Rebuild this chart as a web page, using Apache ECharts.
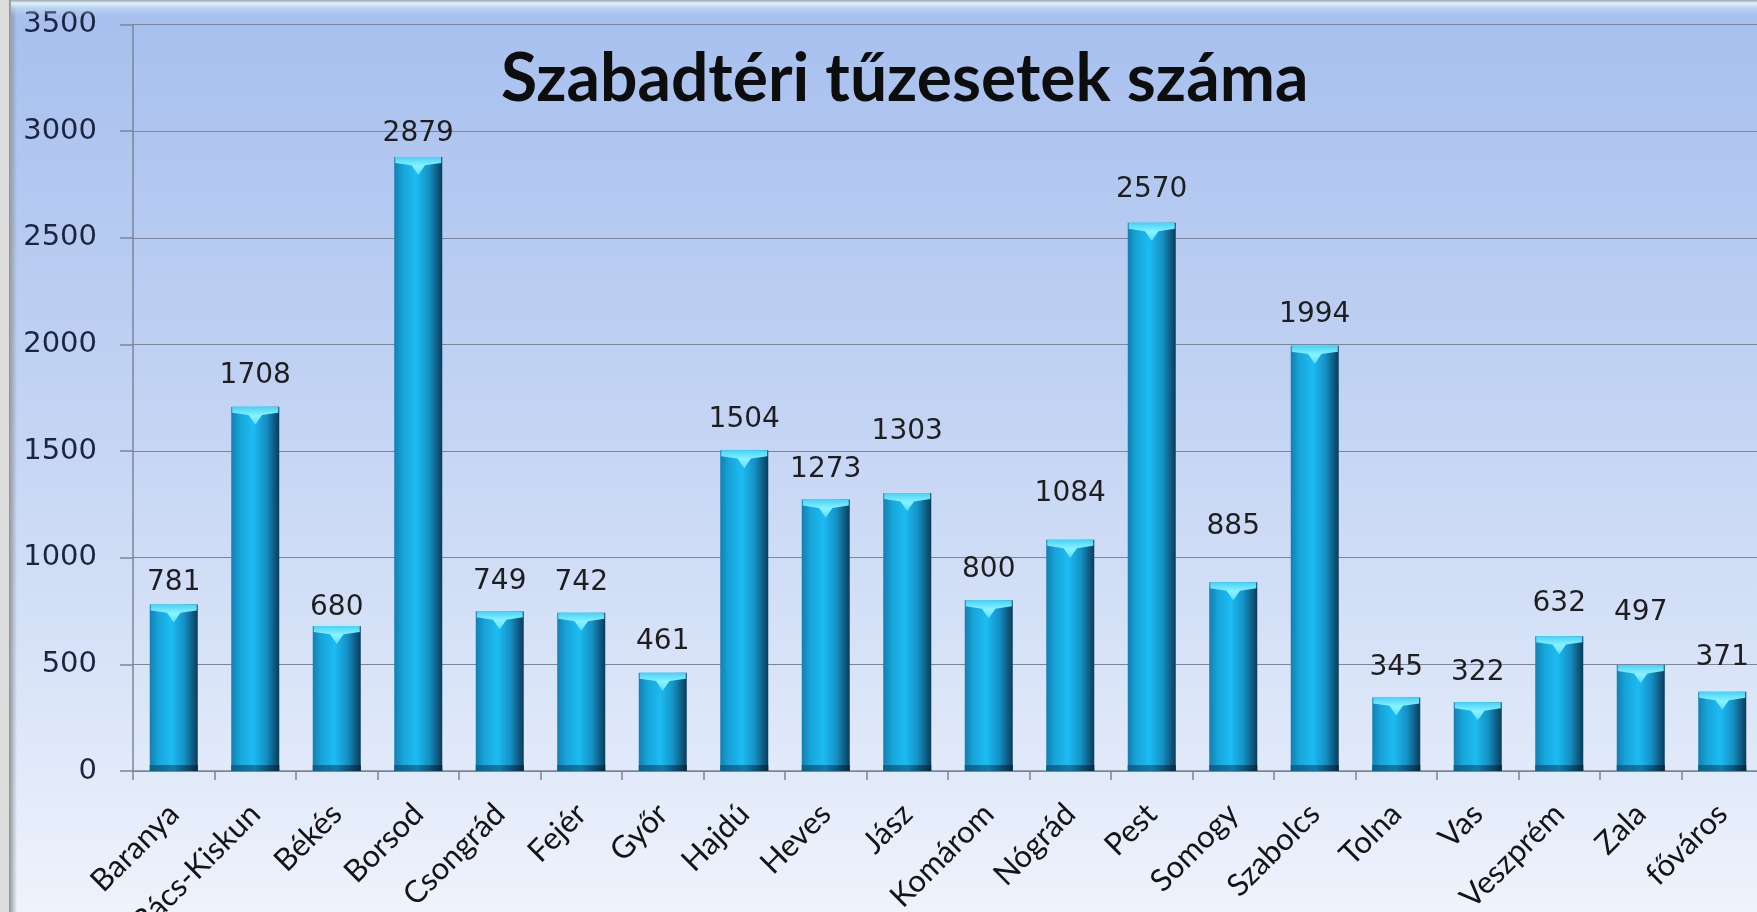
<!DOCTYPE html>
<html>
<head>
<meta charset="utf-8">
<script src="https://cdn.jsdelivr.net/npm/echarts@6/dist/echarts.min.js"></script>
<style>
  html, body { margin: 0; padding: 0; width: 1757px; height: 912px; overflow: hidden; background: #dcdcdc; }
  #chart { position: absolute; left: 11px; top: 0; width: 1746px; height: 912px; }
  #shade { position: absolute; left: 9px; top: 0; width: 8px; height: 912px; pointer-events: none;
    background: linear-gradient(to right, #8e939c, rgba(160,180,220,0)); }
  #glow { position: absolute; left: 11px; top: 0; width: 1746px; height: 16px; pointer-events: none;
    background: linear-gradient(to bottom, #9aa3ad 0, #e2f3fb 3px, rgba(200,225,245,0.6) 8px, rgba(170,195,240,0) 16px); }
</style>
</head>
<body>
<div id="chart"></div>
<div id="shade"></div>
<div id="glow"></div>
<script>
// megyék
var categories = ['Baranya', 'Bács-Kiskun', 'Békés', 'Borsod', 'Csongrád', 'Fejér', 'Győr', 'Hajdú',
  'Heves', 'Jász', 'Komárom', 'Nógrád', 'Pest', 'Somogy', 'Szabolcs', 'Tolna', 'Vas', 'Veszprém',
  'Zala', 'főváros'];
var fires = [781, 1708, 680, 2879, 749, 742, 461, 1504, 1273, 1303, 800, 1084, 2570, 885, 1994,
  345, 322, 632, 497, 371];
var yTicks = [0, 500, 1000, 1500, 2000, 2500, 3000, 3500];

// a címkék az eredetin kézzel vannak elhúzva, ezért oszloponként más a távolság (px)
var labelLift = [8, 17, 4, 9, 16, 16, 17, 16, 16, 47, 17, 32, 19, 42, 17, 16, 16, 18, 38, 20];

var chart = echarts.init(document.getElementById('chart'));

var barData = fires.map(function (v, i) {
  return { value: v, label: { distance: labelLift[i] } };
});

var option = {
  backgroundColor: new echarts.graphic.LinearGradient(0, 0, 0, 1, [
    { offset: 0, color: '#a6bfee' },
    { offset: 0.5, color: '#c6d6f4' },
    { offset: 1, color: '#eef3fc' }
  ]),
  animation: false,
  title: {
    text: 'Szabadtéri tűzesetek száma',
    left: 490,
    top: 47,
    padding: 0,
    textStyle: {
      fontFamily: 'Lato',
      fontWeight: 'bold',
      fontSize: 66,
      color: '#0d0d0d'
    }
  },
  grid: {
    left: 122,
    right: -6,
    top: 24.5,
    bottom: 141,
    outerBoundsMode: 'none'
  },
  xAxis: {
    type: 'category',
    data: categories,
    axisLine: { lineStyle: { color: '#7b8696', width: 1.5 } },
    axisTick: { show: true, length: 9, lineStyle: { color: '#7b8696', width: 1.5 } },
    axisLabel: {
      rotate: 45,
      interval: 0,
      margin: 38,
      fontFamily: 'Lato',
      fontSize: 31,
      color: '#141414'
    }
  },
  yAxis: {
    type: 'value',
    min: yTicks[0],
    max: yTicks[yTicks.length - 1],
    interval: 500,
    axisLine: { show: true, lineStyle: { color: '#7b8696', width: 1.5 } },
    axisTick: { show: true, length: 13, lineStyle: { color: '#7b8696', width: 1.5 } },
    splitLine: { lineStyle: { color: '#7a879c', width: 1.2 } },
    axisLabel: {
      margin: 36,
      fontFamily: 'DejaVu Sans',
      fontSize: 29,
      color: '#1c2540',
      formatter: function (v) { return String(v); }
    }
  },
  series: [
    {
      name: 'tűzesetek',
      type: 'bar',
      data: barData,
      barWidth: 48,
      itemStyle: {
        color: new echarts.graphic.LinearGradient(0, 0, 1, 0, [
          { offset: 0, color: '#137fb0' },
          { offset: 0.18, color: '#17a4d9' },
          { offset: 0.45, color: '#1cbcf2' },
          { offset: 0.72, color: '#1591c6' },
          { offset: 1, color: '#0a3c5a' }
        ])
      },
      label: {
        show: true,
        position: 'top',
        fontFamily: 'DejaVu Sans',
        fontSize: 28,
        color: '#1e1e1e'
      },
      z: 2
    },
    {
      type: 'pictorialBar',
      data: fires,
      barWidth: 48,
      barGap: '-100%',
      symbol: 'path://M0,0 H48 V5 L31,7 L24,15 L17,7 L0,5 Z',
      symbolSize: [46, 18],
      symbolPosition: 'end',
      silent: true,
      itemStyle: {
        color: new echarts.graphic.LinearGradient(0, 0, 0, 1, [
          { offset: 0, color: '#46d2f8' },
          { offset: 0.5, color: '#8af2ff' },
          { offset: 1, color: '#5ee0fb' }
        ])
      },
      z: 3
    },
    {
      type: 'pictorialBar',
      data: fires,
      barWidth: 48,
      barGap: '-100%',
      symbol: 'rect',
      symbolSize: [48, 6],
      symbolPosition: 'start',
      silent: true,
      itemStyle: {
        color: new echarts.graphic.LinearGradient(0, 0, 1, 0, [
          { offset: 0, color: '#0f5f86' },
          { offset: 0.5, color: '#137aa6' },
          { offset: 1, color: '#06283c' }
        ])
      },
      z: 3
    }
  ]
};

chart.setOption(option);
</script>
</body>
</html>
